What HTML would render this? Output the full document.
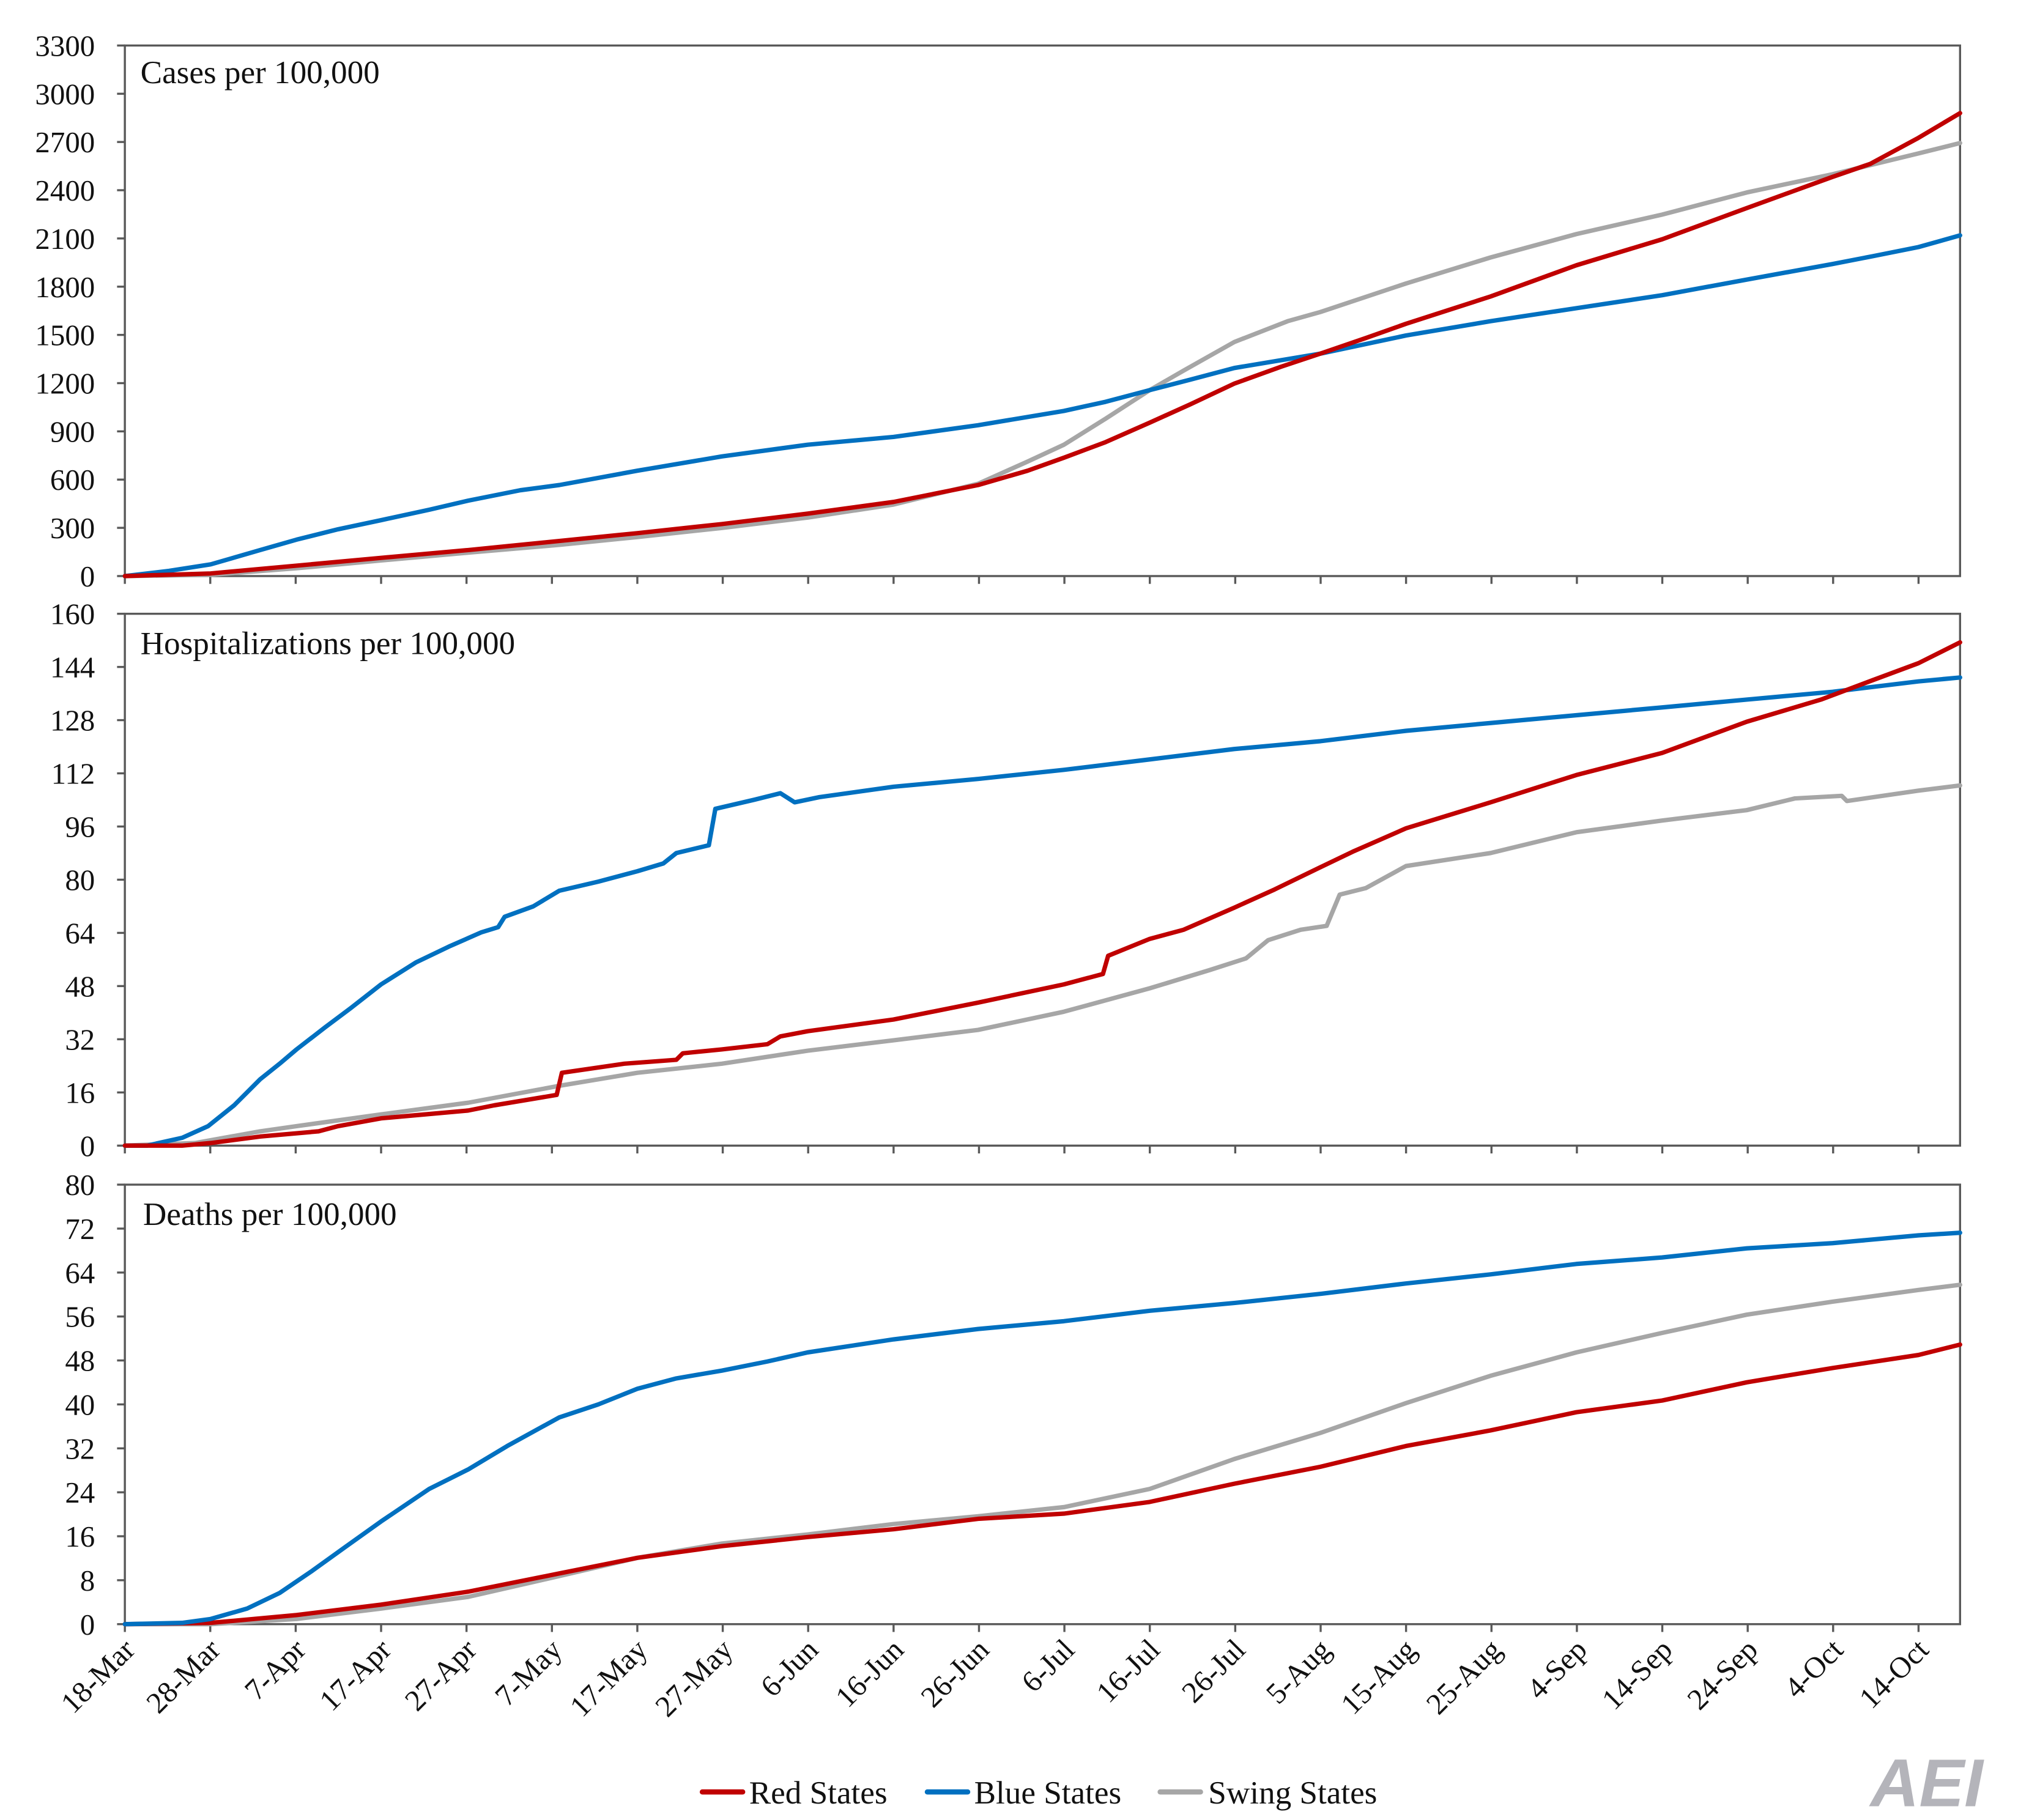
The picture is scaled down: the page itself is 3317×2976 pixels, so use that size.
<!DOCTYPE html>
<html><head><meta charset="utf-8"><style>html,body{margin:0;padding:0;background:#fff}svg{display:block}</style></head>
<body>
<svg xmlns="http://www.w3.org/2000/svg" width="3317" height="2976" viewBox="0 0 1560 1399.6" preserveAspectRatio="none" font-family="'Liberation Serif', serif">
<rect width="1560" height="1400" fill="#fff"/>
<g fill="none" stroke="#595959" stroke-width="1.6">
<rect x="96" y="35" width="1411" height="408"/>
<rect x="96" y="472" width="1411" height="409"/>
<rect x="96" y="911" width="1411" height="338"/>
</g>
<g id="ticks" stroke="#595959" stroke-width="1.6"></g>
<g id="labels" font-size="23" fill="#111"></g>
<g font-size="25" fill="#111">
<text x="108" y="64">Cases per 100,000</text>
<text x="108" y="503">Hospitalizations per 100,000</text>
<text x="110" y="942">Deaths per 100,000</text>
</g>
<g fill="none" stroke-width="3.4" stroke-linejoin="round" stroke-linecap="round">
<polyline stroke="#A6A6A6" points="96,443 162,442 228,437 293,431 360,425 430,419 490,413 555,406 621,398 687,388 752,372 790,355 818,342 850,322 884,300 910,285 949,263 990,247 1015,240 1081,218 1146,198 1212,180 1278,165 1343,148 1409,134 1475,118 1507,110"/>
<polyline stroke="#0070C0" points="96,443 130,439 162,434 200,423 228,415 260,407 293,400 330,392 360,385 400,377 430,373 490,362 555,351 621,342 687,336 752,327 818,316 850,309 884,300 915,292 949,283 1015,272 1081,258 1146,247 1212,237 1278,227 1343,215 1409,203 1440,197 1475,190 1507,181"/>
<polyline stroke="#C00000" points="96,443 162,441 228,435 293,429 360,423 430,416 490,410 555,403 621,395 687,386 752,373 790,362 818,352 850,340 884,325 915,311 949,295 985,282 1015,272 1050,260 1081,249 1146,228 1212,204 1278,184 1343,160 1409,136 1438,126 1475,106 1507,87"/>

<polyline stroke="#A6A6A6" points="96,881 150,879 200,870 228,866 293,857 360,848 430,835 490,825 555,818 621,808 687,800 752,792 818,778 884,760 930,746 958,737 975,723 1000,715 1020,712 1030,688 1050,683 1081,666 1146,656 1212,640 1278,631 1343,623 1380,614 1416,612 1420,616 1475,608 1507,604"/>
<polyline stroke="#0070C0" points="96,881 113,881 140,875 160,866 180,850 200,830 215,818 228,807 250,790 270,775 293,757 320,740 345,728 370,717 383,713 388,705 410,697 430,685 460,678 490,670 510,664 520,656 545,650 550,622 580,615 600,610 611,617 630,613 687,605 752,599 818,592 884,584 949,576 1015,570 1081,562 1146,556 1212,550 1278,544 1343,538 1409,532 1475,524 1507,521"/>
<polyline stroke="#C00000" points="96,881 140,881 162,879 200,874 245,870 260,866 293,860 360,854 380,850 428,842 432,825 480,818 520,815 525,810 555,807 590,803 600,797 621,793 687,784 752,771 818,757 848,749 852,735 884,722 910,715 949,698 980,684 1015,667 1040,655 1081,637 1146,617 1212,596 1278,579 1343,555 1400,538 1440,523 1475,510 1507,494"/>

<polyline stroke="#A6A6A6" points="96,1249 162,1249 228,1245 293,1237 360,1228 430,1212 490,1198 555,1187 621,1180 687,1172 752,1166 818,1159 884,1145 949,1122 1015,1102 1081,1079 1146,1058 1212,1040 1278,1025 1343,1011 1409,1001 1475,992 1507,988"/>
<polyline stroke="#C00000" points="96,1249 162,1248 228,1242 293,1234 360,1224 430,1210 490,1198 555,1189 621,1182 687,1176 752,1168 818,1164 884,1155 949,1141 1015,1128 1081,1112 1146,1100 1212,1086 1278,1077 1343,1063 1409,1052 1475,1042 1507,1034"/>
<polyline stroke="#0070C0" points="96,1249 140,1248 162,1245 190,1237 215,1225 240,1208 265,1190 293,1170 330,1145 360,1130 390,1112 430,1090 460,1080 490,1068 520,1060 555,1054 590,1047 621,1040 687,1030 752,1022 818,1016 884,1008 949,1002 1015,995 1081,987 1146,980 1212,972 1278,967 1343,960 1409,956 1475,950 1507,948"/>
</g>
<g stroke-width="4" stroke-linecap="round">
<line x1="540" y1="1378" x2="571" y2="1378" stroke="#C00000"/>
<line x1="713" y1="1378" x2="744" y2="1378" stroke="#0070C0"/>
<line x1="892" y1="1378" x2="923" y2="1378" stroke="#A6A6A6"/>
</g>
<g font-size="25" fill="#111">
<text x="576" y="1387">Red States</text>
<text x="749" y="1387">Blue States</text>
<text x="929" y="1387">Swing States</text>
</g>
<text x="1438" y="1389" font-size="52" font-weight="bold" font-style="italic" fill="#b4b4ba" font-family="'Liberation Sans', sans-serif">AEI</text>
<script>
var ns="http://www.w3.org/2000/svg",T=document.getElementById('ticks'),L=document.getElementById('labels');
function ln(x1,y1,x2,y2){var l=document.createElementNS(ns,'line');l.setAttribute('x1',x1);l.setAttribute('y1',y1);l.setAttribute('x2',x2);l.setAttribute('y2',y2);T.appendChild(l);}
function tx(x,y,s,a,r){var t=document.createElementNS(ns,'text');t.setAttribute('x',x);t.setAttribute('y',y);t.setAttribute('text-anchor',a);if(r)t.setAttribute('transform','rotate(-45 '+x+' '+y+')');t.textContent=s;L.appendChild(t);}
var P=[[35,443,3300,300],[472,881,160,16],[911,1249,80,8]];
P.forEach(function(p){var n=p[2]/p[3];for(var i=0;i<=n;i++){var y=p[1]-(p[1]-p[0])*i/n;ln(90,y,96,y);tx(73,y+8,String(i*p[3]),'end');}
 for(var d=0;d<=210;d+=10){var x=96+6.567*d;ln(x,p[1],x,p[1]+6);}});
var D=['18-Mar','28-Mar','7-Apr','17-Apr','27-Apr','7-May','17-May','27-May','6-Jun','16-Jun','26-Jun','6-Jul','16-Jul','26-Jul','5-Aug','15-Aug','25-Aug','4-Sep','14-Sep','24-Sep','4-Oct','14-Oct'];
D.forEach(function(s,i){var x=96+65.67*i;tx(x+9,1270,s,'end',true);});
</script>
</svg>
</body></html>
